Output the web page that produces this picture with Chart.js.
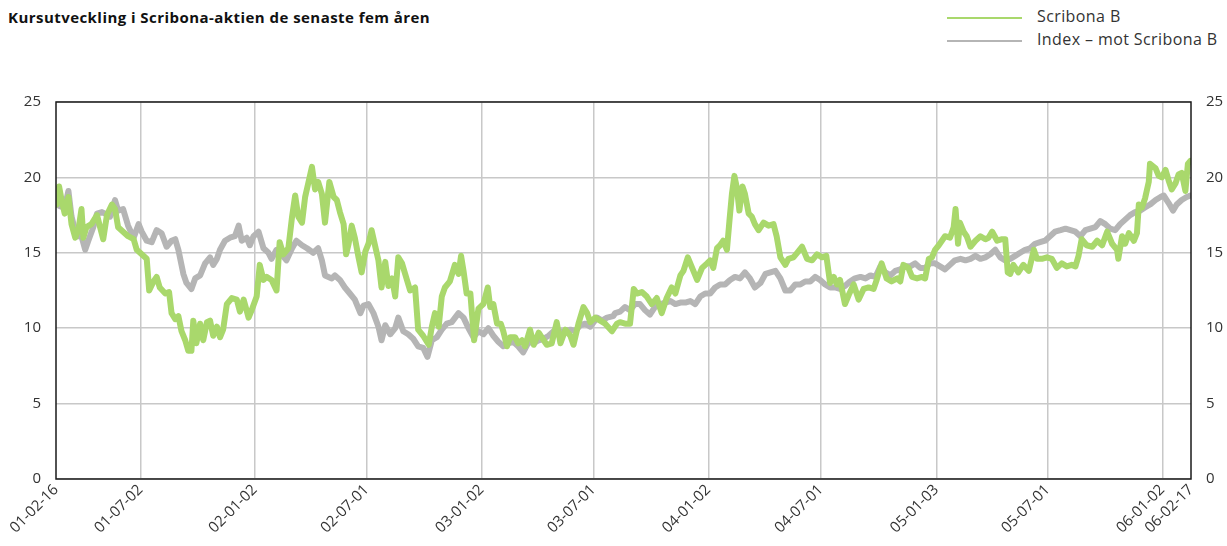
<!DOCTYPE html>
<html>
<head>
<meta charset="utf-8">
<script src="https://cdn.jsdelivr.net/npm/chart.js@4/dist/chart.umd.min.js"></script>
<style>
  html, body { margin: 0; padding: 0; background: #fff; }
  #wrap { position: relative; width: 1227px; height: 546px; font-family: 'Open Sans', sans-serif; color: #222; }
  #title { position: absolute; left: 8px; top: 7px; font-size: 15px; font-weight: 700; color: #111; letter-spacing: 0.45px; }
  .leg { position: absolute; left: 947px; font-size: 16px; color: #333; letter-spacing: 0.4px; }
  .leg span { display: inline-block; width: 75px; height: 2px; vertical-align: middle; margin-right: 15px; }
  #wrap canvas { position: absolute; left: 0; top: 0; }
</style>
</head>
<body>
<div id="wrap">
  <div id="title">Kursutveckling i Scribona-aktien de senaste fem åren</div>
  <div class="leg" style="top:5px"><span style="background:#a9d86c"></span>Scribona B</div>
  <div class="leg" style="top:28px"><span style="background:#b5b5b5"></span>Index – mot Scribona B</div>
  <canvas id="kursChart" width="1227" height="546"></canvas>
</div>
<script>
// x values are days counted from 2001-02-16
var startDate = '2001-02-16';
var tickDates = ['2001-02-16', '2001-07-02', '2002-01-02', '2002-07-01', '2003-01-02', '2003-07-01',
                 '2004-01-02', '2004-07-01', '2005-01-03', '2005-07-01', '2006-01-02', '2006-02-17'];
var tickLabels = ['01-02-16', '01-07-02', '02-01-02', '02-07-01', '03-01-02', '03-07-01',
                  '04-01-02', '04-07-01', '05-01-03', '05-07-01', '06-01-02', '06-02-17'];
var yTicks = [0, 5, 10, 15, 20, 25];

var scribonaDays = [0, 1, 5, 9, 14, 20, 25, 31, 36, 41, 44, 49, 57, 66, 71, 76, 82, 90, 95, 100,
  108, 116, 125, 130, 138, 146, 150, 157, 162, 167, 176, 182, 186, 192, 197, 202, 208, 213, 218, 221,
  226, 232, 237, 243, 248, 253, 259, 264, 269, 275, 283, 291, 296, 302, 310, 315, 323, 328, 334, 339,
  347, 355, 360, 366, 374, 380, 385, 390, 396, 401, 406, 412, 417, 422, 428, 433, 440, 447, 452, 457,
  463, 467, 471, 476, 481, 487, 492, 498, 503, 508, 514, 519, 524, 530, 535, 541, 546, 551, 557, 562,
  570, 578, 583, 591, 600, 605, 610, 616, 621, 626, 634, 642, 648, 652, 656, 661, 667, 673, 680, 688,
  695, 699, 704, 710, 716, 720, 726, 731, 739, 744, 750, 755, 763, 769, 777, 785, 790, 798, 806, 812,
  820, 828, 833, 841, 849, 855, 860, 868, 876, 884, 895, 903, 908, 916, 924, 930, 935, 943, 951, 959,
  967, 975, 983, 991, 997, 1005, 1010, 1017, 1024, 1032, 1040, 1048, 1053, 1058, 1064, 1069, 1074, 1080, 1084, 1088,
  1092, 1096, 1100, 1105, 1109, 1115, 1120, 1125, 1131, 1139, 1147, 1155, 1160, 1166, 1174, 1179, 1187, 1193, 1201, 1209,
  1217, 1225, 1233, 1240, 1246, 1252, 1257, 1262, 1270, 1276, 1284, 1292, 1300, 1308, 1316, 1321, 1329, 1337, 1345, 1354,
  1359, 1364, 1372, 1378, 1386, 1394, 1399, 1405, 1410, 1415, 1421, 1426, 1431, 1439, 1445, 1448, 1452, 1455, 1461, 1466,
  1472, 1480, 1488, 1496, 1501, 1507, 1515, 1523, 1528, 1532, 1536, 1541, 1549, 1557, 1566, 1574, 1579, 1587, 1595, 1603,
  1611, 1619, 1627, 1635, 1641, 1646, 1651, 1659, 1668, 1676, 1684, 1692, 1700, 1708, 1710, 1716, 1721, 1727, 1735, 1740,
  1743, 1748, 1753, 1759, 1761, 1770, 1775, 1780, 1786, 1791, 1796, 1802, 1807, 1812, 1818, 1822, 1826];
var scribonaValues = [18.2, 18.7, 19.4, 18.5, 17.6, 18.7, 16.9, 16.0, 16.5, 17.9, 16.0, 16.7, 16.9, 17.5, 16.7, 15.9, 17.5, 18.2, 17.9, 16.7,
  16.4, 16.1, 15.9, 15.2, 14.9, 14.6, 12.5, 13.1, 13.4, 12.7, 12.3, 12.4, 11.0, 10.6, 10.8, 9.8, 9.2, 8.5, 8.5, 10.5,
  9.0, 10.3, 9.2, 10.4, 10.5, 9.5, 10.1, 9.4, 9.9, 11.6, 12.0, 11.9, 11.1, 11.9, 10.7, 11.2, 12.1, 14.2, 13.2, 13.4,
  13.2, 12.5, 15.7, 14.9, 15.3, 17.4, 18.8, 17.4, 17.0, 18.7, 19.6, 20.7, 19.2, 19.7, 18.9, 17.0, 19.7, 18.7, 18.5, 17.7,
  16.9, 14.9, 15.6, 16.8, 16.0, 14.7, 13.7, 15.1, 15.6, 16.5, 15.4, 14.5, 12.7, 14.4, 12.8, 13.3, 12.1, 14.7, 14.3, 13.6,
  12.5, 12.7, 9.9, 9.5, 8.9, 10.1, 11.0, 10.1, 12.1, 12.7, 13.1, 14.2, 13.6, 14.8, 13.8, 12.3, 12.3, 9.2, 11.3, 11.6,
  12.7, 11.4, 11.6, 10.3, 10.3, 9.8, 8.8, 9.4, 9.4, 9.0, 9.2, 8.8, 9.9, 8.9, 9.7, 9.2, 8.9, 9.0, 10.4, 9.0,
  9.9, 9.5, 8.9, 10.3, 11.4, 11.0, 10.4, 10.7, 10.5, 10.3, 9.8, 10.3, 10.4, 10.3, 10.3, 12.6, 12.3, 12.4, 12.1, 11.6,
  12.0, 11.0, 12.0, 12.7, 12.3, 13.5, 13.8, 14.7, 14.0, 13.2, 14.0, 14.3, 14.5, 14.0, 15.3, 15.5, 15.8, 15.2, 17.1, 18.9,
  20.1, 19.3, 17.8, 19.4, 18.9, 17.6, 17.4, 16.9, 16.5, 17.0, 16.8, 16.9, 16.1, 14.7, 14.2, 14.6, 14.7, 15.0, 15.4, 14.6,
  14.5, 14.9, 14.7, 14.8, 13.0, 13.4, 12.9, 13.2, 11.6, 12.2, 12.9, 11.9, 12.6, 12.7, 12.6, 13.2, 14.3, 13.3, 13.1, 13.3,
  13.1, 14.2, 14.0, 13.4, 13.3, 13.4, 13.3, 14.6, 14.7, 15.2, 15.5, 15.8, 16.1, 16.0, 16.7, 17.9, 15.6, 17.0, 16.4, 16.1,
  15.4, 15.8, 16.1, 15.9, 16.0, 16.4, 15.8, 15.9, 15.9, 13.7, 13.6, 14.2, 13.7, 14.2, 13.8, 15.2, 14.6, 14.6, 14.7, 14.6,
  14.0, 14.3, 14.1, 14.2, 14.1, 14.8, 15.9, 15.5, 15.4, 15.8, 15.5, 16.4, 15.6, 15.2, 14.6, 16.1, 15.6, 16.3, 15.8, 16.3,
  18.2, 18.0, 18.6, 19.7, 20.9, 20.6, 20.1, 20.0, 20.5, 19.8, 19.2, 19.6, 20.2, 20.3, 19.1, 20.9, 21.1];

var indexDays = [0, 1, 6, 14, 20, 25, 33, 41, 47, 52, 60, 66, 74, 79, 87, 95, 100, 108, 116, 125,
  133, 138, 146, 154, 162, 170, 178, 186, 192, 197, 205, 210, 218, 224, 232, 240, 248, 253, 259, 264,
  272, 280, 288, 294, 299, 307, 312, 318, 326, 334, 342, 347, 355, 363, 371, 380, 387, 396, 404, 414,
  422, 428, 433, 444, 449, 457, 465, 473, 481, 490, 495, 503, 511, 519, 524, 530, 538, 546, 551, 559,
  567, 575, 583, 591, 598, 605, 613, 621, 629, 637, 648, 656, 664, 672, 680, 688, 696, 704, 712, 720,
  728, 736, 744, 752, 761, 769, 777, 785, 793, 801, 809, 817, 828, 836, 844, 852, 860, 871, 879, 887,
  897, 900, 908, 916, 924, 932, 940, 948, 956, 964, 973, 981, 989, 997, 1005, 1013, 1021, 1029, 1037, 1045,
  1053, 1061, 1069, 1077, 1085, 1093, 1101, 1109, 1117, 1125, 1134, 1142, 1150, 1158, 1166, 1174, 1182, 1190, 1198, 1206,
  1214, 1222, 1230, 1238, 1246, 1254, 1262, 1270, 1278, 1286, 1295, 1303, 1311, 1319, 1327, 1335, 1343, 1351, 1359, 1367,
  1375, 1383, 1391, 1399, 1407, 1415, 1423, 1431, 1439, 1447, 1456, 1464, 1472, 1480, 1488, 1496, 1504, 1512, 1520, 1528,
  1536, 1544, 1552, 1560, 1568, 1576, 1584, 1592, 1600, 1608, 1617, 1625, 1633, 1641, 1649, 1657, 1665, 1673, 1681, 1689,
  1697, 1705, 1713, 1721, 1729, 1737, 1745, 1753, 1761, 1770, 1778, 1783, 1791, 1798, 1804, 1812, 1820, 1826];
var indexValues = [18.3, 18.2, 18.1, 18.0, 19.1, 17.4, 16.1, 16.1, 15.2, 15.8, 16.7, 17.6, 17.7, 17.6, 17.4, 18.5, 17.8, 17.9, 16.8, 16.0,
  16.9, 16.4, 15.8, 15.7, 16.5, 16.3, 15.4, 15.8, 15.9, 15.2, 13.6, 13.0, 12.6, 13.3, 13.5, 14.3, 14.7, 14.2, 14.6, 15.2,
  15.8, 16.0, 16.1, 16.8, 15.8, 16.0, 15.5, 16.1, 16.4, 15.3, 15.0, 14.6, 15.2, 14.9, 14.5, 15.3, 15.8, 15.5, 15.3, 15.0,
  15.3, 14.5, 13.5, 13.3, 13.5, 13.2, 12.7, 12.3, 11.9, 11.0, 11.5, 11.6, 11.0, 10.1, 9.2, 10.2, 9.6, 10.0, 10.7, 9.8,
  9.6, 9.3, 8.8, 8.7, 8.1, 9.2, 9.4, 9.9, 10.3, 10.4, 11.0, 10.7, 10.0, 9.4, 9.8, 9.6, 10.0, 9.5, 9.1, 8.8,
  9.0, 9.1, 8.8, 8.4, 9.1, 9.0, 9.2, 9.3, 9.5, 9.8, 9.8, 9.8, 9.9, 9.8, 10.2, 10.3, 10.1, 10.7, 10.5, 10.7,
  10.8, 11.0, 11.1, 11.4, 11.2, 11.6, 11.6, 11.2, 10.9, 11.4, 11.6, 11.7, 11.8, 11.6, 11.7, 11.7, 11.8, 11.6, 12.1, 12.3,
  12.3, 12.7, 12.9, 12.9, 13.2, 13.4, 13.3, 13.7, 13.3, 12.7, 13.0, 13.6, 13.7, 13.8, 13.3, 12.5, 12.5, 12.9, 12.9, 13.1,
  13.1, 13.4, 13.2, 12.9, 12.7, 12.7, 12.6, 12.8, 13.1, 13.3, 13.4, 13.3, 13.5, 13.4, 14.1, 13.7, 13.5, 13.8, 13.9, 14.1,
  14.1, 14.3, 14.0, 14.0, 14.3, 14.3, 14.1, 13.9, 14.2, 14.5, 14.6, 14.5, 14.6, 14.8, 14.6, 14.7, 14.9, 15.2, 14.7, 14.5,
  14.6, 14.8, 15.0, 15.2, 15.3, 15.6, 15.7, 15.8, 16.1, 16.4, 16.5, 16.6, 16.5, 16.4, 16.1, 16.5, 16.6, 16.7, 17.1, 16.9,
  16.6, 16.5, 16.9, 17.2, 17.5, 17.7, 17.8, 18.0, 18.2, 18.5, 18.7, 18.8, 18.3, 17.8, 18.2, 18.5, 18.7, 18.8];

function dayOf(s) {
    var p = s.split('-');
    var p0 = startDate.split('-');
    return Math.round((Date.UTC(+p[0], p[1] - 1, +p[2]) - Date.UTC(+p0[0], p0[1] - 1, +p0[2])) / 86400000);
}
var tickDays = tickDates.map(dayOf);
var lastDay = tickDays[tickDays.length - 1];

function toPoints(xs, ys) {
    return xs.map(function(x, i) { return { x: x, y: ys[i] }; });
}

// frame round the plot area
var framePlugin = {
    id: 'frame',
    afterDraw: function(chart) {
        var a = chart.chartArea;
        var ctx = chart.ctx;
        ctx.save();
        ctx.strokeStyle = '#1a1a1a';
        ctx.lineWidth = 1.5;
        ctx.strokeRect(a.left, a.top, a.right - a.left, a.bottom - a.top);
        ctx.restore();
    }
};

var tickFont = { family: "'Open Sans', sans-serif", size: 15 };

new Chart(document.getElementById('kursChart'), {
    type: 'line',
    data: {
        datasets: [{
            label: 'Scribona B',
            data: toPoints(scribonaDays, scribonaValues),
            borderColor: '#a9d86c',
            borderWidth: 6,
            pointRadius: 0,
            tension: 0,
            borderJoinStyle: 'round',
            borderCapStyle: 'round'
        }, {
            label: 'Index – mot Scribona B',
            data: toPoints(indexDays, indexValues),
            borderColor: '#b5b5b5',
            borderWidth: 6,
            pointRadius: 0,
            tension: 0,
            borderJoinStyle: 'round',
            borderCapStyle: 'round'
        }]
    },
    options: {
        responsive: false,
        animation: false,
        layout: { padding: { top: 102, left: 0, right: 0, bottom: 0 } },
        plugins: {
            legend: { display: false },
            tooltip: { enabled: false }
        },
        scales: {
            x: {
                type: 'linear',
                min: 0,
                max: lastDay,
                afterBuildTicks: function(scale) {
                    scale.ticks = tickDays.map(function(d) { return { value: d }; });
                },
                afterFit: function(scale) { scale.height = 67; },
                ticks: {
                    autoSkip: false,
                    maxRotation: 45,
                    minRotation: 45,
                    color: '#333',
                    font: tickFont,
                    padding: 2,
                    callback: function(value) {
                        var i = tickDays.indexOf(value);
                        return i >= 0 ? tickLabels[i] : '';
                    }
                },
                grid: {
                    drawTicks: false,
                    lineWidth: 1.5,
                    color: function(ctx) {
                        var v = ctx.tick ? ctx.tick.value : null;
                        return (v === 0 || v === lastDay) ? 'rgba(0,0,0,0)' : '#c8c8c8';
                    }
                },
                border: { display: false }
            },
            y: {
                position: 'left',
                min: 0,
                max: 25,
                afterBuildTicks: function(scale) {
                    scale.ticks = yTicks.map(function(v) { return { value: v }; });
                },
                afterFit: function(scale) { scale.width = 56; },
                ticks: { color: '#333', font: tickFont, padding: 15 },
                grid: { drawTicks: false, lineWidth: 1.5, color: '#c8c8c8' },
                border: { display: false }
            },
            y2: {
                position: 'right',
                min: 0,
                max: 25,
                afterBuildTicks: function(scale) {
                    scale.ticks = yTicks.map(function(v) { return { value: v }; });
                },
                afterFit: function(scale) { scale.width = 36; },
                ticks: { color: '#333', font: tickFont, padding: 15 },
                grid: { display: false, drawTicks: false },
                border: { display: false }
            }
        }
    },
    plugins: [framePlugin]
});
</script>
</body>
</html>
